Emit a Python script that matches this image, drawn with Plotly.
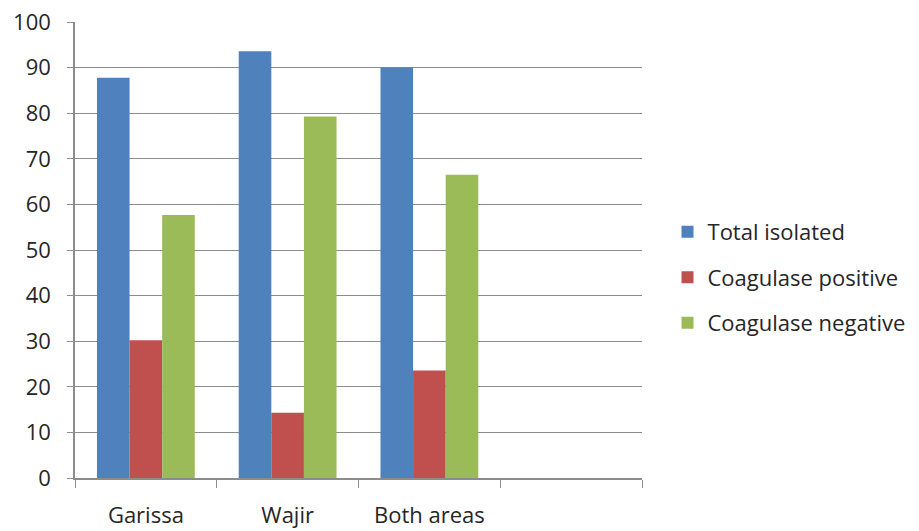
import plotly.graph_objects as go

categories = ["Garissa", "Wajir", "Both areas", " "]
series_names = ["Total isolated", "Coagulase positive", "Coagulase negative"]
total_isolated = [87.8, 93.6, 90.0, None]
coag_positive = [30.2, 14.3, 23.6, None]
coag_negative = [57.7, 79.3, 66.5, None]
colors = ["#4F81BD", "#C0504D", "#9BBB59"]
y_ticks = [0, 10, 20, 30, 40, 50, 60, 70, 80, 90, 100]

fig = go.Figure()
for name, vals, col in zip(series_names, [total_isolated, coag_positive, coag_negative], colors):
    fig.add_trace(go.Bar(x=categories, y=vals, name=name, marker_color=col,
                         marker_line_width=0, legendgroup=name))

font_family = "Open Sans, Liberation Sans, sans-serif"
fig.update_layout(
    width=919, height=531,
    margin=dict(l=75, r=277, t=22, b=53, autoexpand=False),
    paper_bgcolor="white", plot_bgcolor="white",
    barmode="group", bargap=0.31, bargroupgap=0,
    font=dict(family=font_family, size=22, color="#262626"),
    legend=dict(x=1.045, y=0.44, xanchor="left", yanchor="middle",
                font=dict(size=22, color="#262626"), tracegroupgap=14,
                itemwidth=30),
    showlegend=True,
)
fig.update_xaxes(
    type="category", categoryorder="array", categoryarray=categories,
    tickson="boundaries", ticks="outside", ticklen=8, tickcolor="#8C8C8C",
    showline=True, linecolor="#8C8C8C", linewidth=1.5,
    showgrid=False, ticklabelstandoff=17, automargin=False,
    tickfont=dict(size=22, color="#262626"),
)
fig.update_yaxes(
    range=[0, 100], tickvals=y_ticks, ticks="outside", ticklen=6,
    tickcolor="#8C8C8C", showline=True, linecolor="#8C8C8C", linewidth=1.5,
    showgrid=True, gridcolor="#8C8C8C", gridwidth=1, zeroline=False,
    automargin=False,
    tickfont=dict(size=22, color="#262626"), ticklabelstandoff=12,
)

fig.write_html("out.html")
